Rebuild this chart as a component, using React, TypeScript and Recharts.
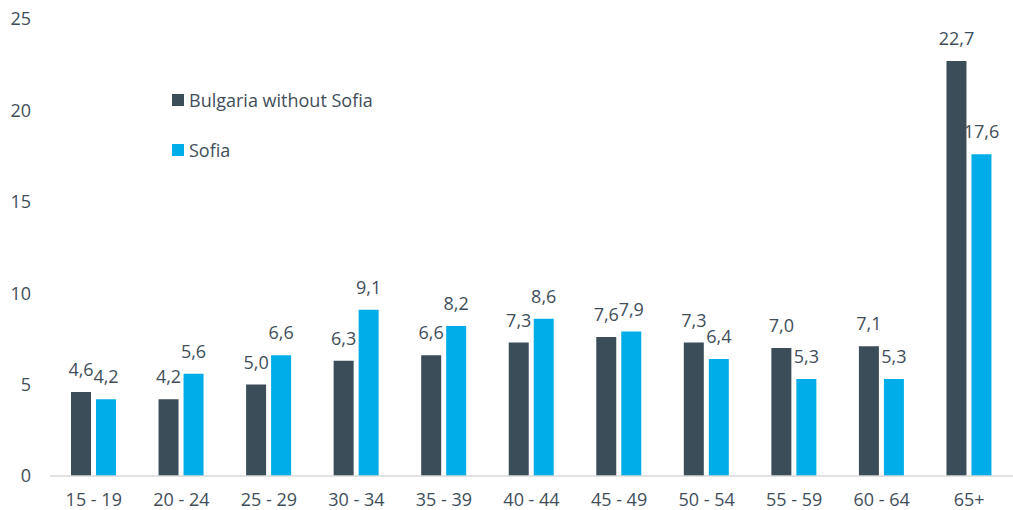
import React from 'react';
import { BarChart, Bar, XAxis, YAxis, LabelList } from 'recharts';

const ageGroups = ['15 - 19', '20 - 24', '25 - 29', '30 - 34', '35 - 39', '40 - 44', '45 - 49', '50 - 54', '55 - 59', '60 - 64', '65+'];
const bulgariaWithoutSofia = [4.6, 4.2, 5.0, 6.3, 6.6, 7.3, 7.6, 7.3, 7.0, 7.1, 22.7];
const sofia = [4.2, 5.6, 6.6, 9.1, 8.2, 8.6, 7.9, 6.4, 5.3, 5.3, 17.6];
const yTicks = [0, 5, 10, 15, 20, 25];

const DARK = '#3A4D59';
const CYAN = '#00ADE8';
const TEXT = '#3F4E5A';
const FONT = '"Open Sans", sans-serif';

const series = [
  { key: 'bulgaria', name: 'Bulgaria without Sofia', color: DARK },
  { key: 'sofia', name: 'Sofia', color: CYAN },
];

const data = ageGroups.map((group, i) => ({
  group,
  bulgaria: bulgariaWithoutSofia[i],
  sofia: sofia[i],
}));

const fmt = (v: any) => Number(v).toFixed(1).replace('.', ',');

// legend sits inside the plot, drawn as an overlay so it does not shrink the chart
const LegendBox = () => (
  <div style={{ position: 'absolute', left: 172, top: 87, fontFamily: FONT, fontSize: 18, color: TEXT }}>
    {series.map((s) => (
      <div key={s.key} style={{ display: 'flex', alignItems: 'center', height: 26, marginBottom: 24 }}>
        <span style={{ width: 12, height: 12, background: s.color, display: 'inline-block', marginRight: 5 }} />
        <span>{s.name}</span>
      </div>
    ))}
  </div>
);

export default function App() {
  return (
    <div style={{ position: 'absolute', left: 0, top: 0, width: 1013, height: 510, background: '#fff' }}>
      <BarChart
        width={1013}
        height={510}
        data={data}
        margin={{ top: 19, right: 0, bottom: 0, left: 0 }}
        barSize={20}
        barGap={5}
      >
        <XAxis
          dataKey="group"
          tickLine={false}
          axisLine={{ stroke: '#D9D9D9', strokeWidth: 1.5 }}
          tick={{ fill: TEXT, fontSize: 18, fontFamily: FONT }}
          tickMargin={11}
          height={34}
          interval={0}
        />
        <YAxis
          domain={[0, 25]}
          ticks={yTicks}
          axisLine={false}
          tickLine={false}
          width={50}
          tickMargin={13}
          tick={{ fill: TEXT, fontSize: 18, fontFamily: FONT }}
        />
        {series.map((s) => (
          <Bar key={s.key} dataKey={s.key} name={s.name} fill={s.color} isAnimationActive={false}>
            <LabelList dataKey={s.key} position="top" formatter={fmt} offset={16} style={{ fill: TEXT, fontSize: 18, fontFamily: FONT }} />
          </Bar>
        ))}
      </BarChart>
      <LegendBox />
    </div>
  );
}
